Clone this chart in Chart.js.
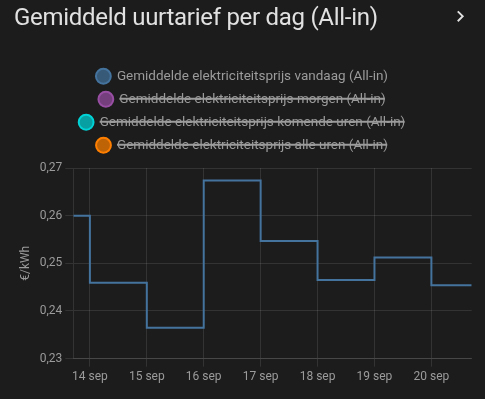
<!DOCTYPE html>
<html>
<head>
<meta charset="utf-8">
<script src="https://cdn.jsdelivr.net/npm/chart.js@4/dist/chart.umd.min.js"></script>
<style>
  html, body { margin: 0; padding: 0; background: #1c1c1c; }
  #wrap { position: relative; width: 485px; height: 399px; overflow: hidden; background: #1c1c1c; }
  #title { position: absolute; left: 14px; top: 1px; font-family: Roboto, sans-serif; font-size: 24px; line-height: 32px; color: #e1e1e1; letter-spacing: -0.012em; white-space: nowrap; }
  #chev { position: absolute; left: 448.6px; top: 5.4px; width: 22.6px; height: 22.6px; }
  canvas { position: absolute; left: 0; top: 0; }
</style>
</head>
<body>
<div id="wrap">
  <canvas id="c" width="485" height="399"></canvas>
  <div id="title">Gemiddeld uurtarief per dag (All-in)</div>
  <svg id="chev" viewBox="0 0 24 24"><path fill="#e1e1e1" d="M8.59,16.58L13.17,12L8.59,7.41L10,6L16,12L10,18L8.59,16.58Z"/></svg>
</div>
<script>
// ---- data ----
const seriesNames = [
  'Gemiddelde elektriciteitsprijs vandaag (All-in)',
  'Gemiddelde elektriciteitsprijs morgen (All-in)',
  'Gemiddelde elektriciteitsprijs komende uren (All-in)',
  'Gemiddelde elektriciteitsprijs alle uren (All-in)'
];
const seriesColors = ['#44739e', '#984ea3', '#00d2d5', '#ff7f00'];
const seriesHidden = [false, true, true, true];
// x positions in days relative to 14 sep 00:00 (window 13 sep 17:00 – 20 sep 17:00)
const stepX = [-7/24, 0, 1, 2, 3, 4, 5, 6, 6 + 17/24];
const pricesToday = [0.2600, 0.2459, 0.2365, 0.2674, 0.2547, 0.2465, 0.2512, 0.2454, 0.2454];
const xTickPositions = [0, 1, 2, 3, 4, 5, 6];
const xTickLabels = ['14 sep', '15 sep', '16 sep', '17 sep', '18 sep', '19 sep', '20 sep'];
const yTickValues = [0.23, 0.24, 0.25, 0.26, 0.27];
const yTickLabels = ['0,23', '0,24', '0,25', '0,26', '0,27'];
const yAxisTitle = '€/kWh';

function alpha(hex, a) {
  const r = parseInt(hex.slice(1,3),16), g = parseInt(hex.slice(3,5),16), b = parseInt(hex.slice(5,7),16);
  return `rgba(${r},${g},${b},${a})`;
}

const gridColor = 'rgba(225,225,225,0.12)';
const textColor = '#9b9b9b';
Chart.defaults.font.family = 'Roboto, sans-serif';
Chart.defaults.color = textColor;

const datasets = seriesNames.map((name, i) => ({
  label: name,
  data: i === 0 ? stepX.map((x, j) => ({ x: x, y: pricesToday[j] })) : [],
  borderColor: seriesColors[i],
  backgroundColor: alpha(seriesColors[i], 0.72),
  borderWidth: 2,
  pointRadius: 0,
  stepped: true,
  tension: 0,
  fill: false,
  hidden: seriesHidden[i]
}));

const legendGap = {
  id: 'legendGap',
  beforeInit(chart) {
    const orig = chart.legend.fit;
    chart.legend.fit = function () { orig.call(this); this.height += 6; };
  }
};

new Chart(document.getElementById('c'), {
  type: 'line',
  data: { datasets },
  plugins: [legendGap],
  options: {
    responsive: false,
    animation: false,
    devicePixelRatio: 1,
    layout: { padding: { left: 13, right: 13.3, top: 60, bottom: 12 } },
    plugins: {
      legend: {
        position: 'top',
        labels: { usePointStyle: true, pointStyle: 'circle', boxWidth: 13.5, boxHeight: 10.5, padding: 9.5, color: textColor, font: { size: 13.5 } }
      },
      tooltip: { enabled: false }
    },
    scales: {
      x: {
        type: 'linear',
        min: stepX[0],
        max: stepX[stepX.length - 1],
        afterBuildTicks: (scale) => { scale.ticks = xTickPositions.map(v => ({ value: v })); },
        ticks: {
          autoSkip: false, maxRotation: 0, color: textColor, font: { size: 12 },
          callback: (v) => { const k = xTickPositions.indexOf(v); return k >= 0 ? xTickLabels[k] : ''; }
        },
        grid: { color: gridColor, tickLength: 8 },
        border: { color: gridColor }
      },
      y: {
        min: yTickValues[0],
        max: yTickValues[yTickValues.length - 1],
        afterBuildTicks: (scale) => { scale.ticks = yTickValues.map(v => ({ value: v })); },
        ticks: {
          color: textColor, font: { size: 12 },
          callback: (v) => { const k = yTickValues.findIndex(t => Math.abs(t - v) < 1e-9); return k >= 0 ? yTickLabels[k] : ''; }
        },
        title: { display: true, text: yAxisTitle, color: textColor, font: { size: 12 }, padding: { top: 6, bottom: 3.3 } },
        grid: { color: gridColor, tickLength: 8 },
        border: { color: gridColor }
      }
    }
  }
});
</script>
</body>
</html>
